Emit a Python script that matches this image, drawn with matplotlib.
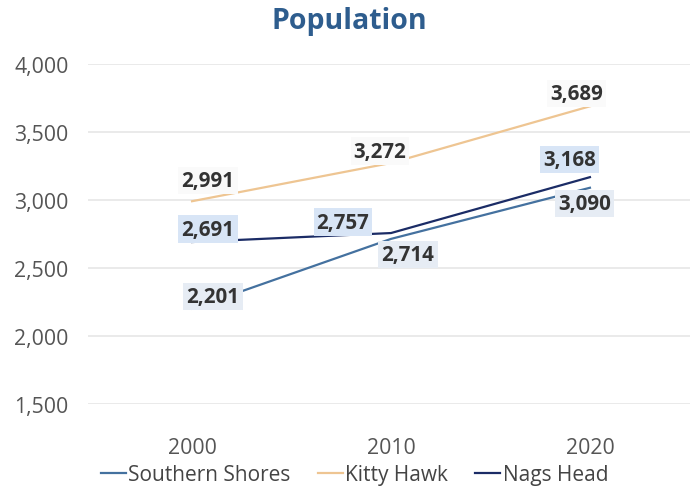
import matplotlib
matplotlib.use("Agg")
import matplotlib.pyplot as plt
from matplotlib.ticker import FuncFormatter

plt.rcParams['font.family'] = ['Open Sans', 'DejaVu Sans']

years = ["2000", "2010", "2020"]
southern_shores = [2201, 2714, 3090]
kitty_hawk = [2991, 3272, 3689]
nags_head = [2691, 2757, 3168]

# label offsets (pixels, right/up) so the numbers don't sit on the lines
ss_off = [(21, 12), (17, -16), (-5, -16)]
kh_off = [(16, 21), (-11, 12), (-13, 13)]
nh_off = [(16, 13), (-48, 11), (-20, 18)]

series = [
    ("Southern Shores", southern_shores, "#44719f", ss_off, "#e6ecf4"),
    ("Kitty Hawk", kitty_hawk, "#eec592", kh_off, "#fafafa"),
    ("Nags Head", nags_head, "#1b2c66", nh_off, "#d8e5f6"),
]

fig = plt.figure(figsize=(6.98, 4.89), dpi=100)
ax = fig.add_axes([88 / 698, 1 - 405 / 489, (690 - 88) / 698, (405 - 65) / 489])

x = list(range(len(years)))
for name, vals, col, offs, bg in series:
    ax.plot(x, vals, color=col, lw=1.6, label=name, zorder=3)

for name, vals, col, offs, bg in series:
    for i, v in enumerate(vals):
        ax.annotate(f"{v:,}", (x[i], v), xytext=(offs[i][0] * 0.72, offs[i][1] * 0.72),
                    textcoords="offset points", ha="center", va="center",
                    fontsize=14.8, fontweight="bold", color="#333333", zorder=4,
                    bbox=dict(boxstyle="square,pad=0.15", fc=bg, ec="none"))

ax.set_xlim(-0.523, 2.503)
ax.set_ylim(1500, 4000)
ax.set_yticks([1500, 2000, 2500, 3000, 3500, 4000])
ax.yaxis.set_major_formatter(FuncFormatter(lambda v, p: f"{int(v):,}"))
ax.set_xticks(x)
ax.set_xticklabels(years)
ax.tick_params(axis="both", length=0, labelsize=15.3, labelcolor="#555555")
ax.tick_params(axis="x", pad=24)
ax.tick_params(axis="y", pad=14)
ax.grid(axis="y", color="#e6e6e6", lw=1.2)
ax.set_axisbelow(True)
for s in ax.spines.values():
    s.set_visible(False)

fig.text(0.5, 1 - 22 / 489, "Population", ha="center", va="center",
         fontsize=20.5, fontweight="bold", color="#2e5d8e")

fig.legend(loc="center", bbox_to_anchor=(0.508, 1 - 476 / 489), ncol=3, frameon=False,
           fontsize=15, handlelength=1.2, handletextpad=0.12, columnspacing=1.3,
           labelcolor="#444444")

fig.savefig("out.png", dpi=100)
